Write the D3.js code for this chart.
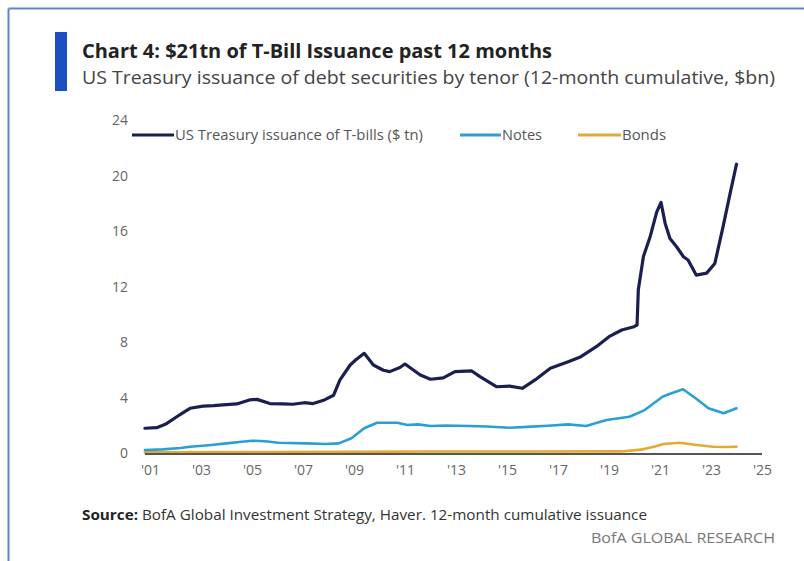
<!DOCTYPE html>
<html>
<head>
<meta charset="utf-8">
<script src="https://cdn.jsdelivr.net/npm/d3@7"></script>
<style>
  html, body { margin: 0; padding: 0; background: #fff; }
  svg { display: block; }
  text { font-family: "Open Sans", "Noto Sans", sans-serif; }
</style>
</head>
<body>
<svg id="chart" width="804" height="561"></svg>
<script>
// 12-month cumulative issuance, [year, value]
const tbills = [
  [2000.8, 1.82], [2001.26, 1.86], [2001.6, 2.1], [2002.05, 2.65], [2002.3, 2.95],
  [2002.57, 3.26], [2003.08, 3.42], [2003.5, 3.45], [2003.86, 3.5], [2004.4, 3.57],
  [2004.9, 3.86], [2005.2, 3.9], [2005.7, 3.6], [2006.2, 3.57], [2006.6, 3.55],
  [2007.05, 3.66], [2007.4, 3.6], [2007.84, 3.86], [2008.2, 4.2], [2008.45, 5.3],
  [2008.85, 6.38], [2009.1, 6.8], [2009.4, 7.22], [2009.76, 6.38], [2010.15, 6.0],
  [2010.4, 5.9], [2010.8, 6.2], [2011.0, 6.45], [2011.6, 5.66], [2012.0, 5.35],
  [2012.5, 5.45], [2012.96, 5.9], [2013.62, 5.95], [2013.94, 5.54], [2014.6, 4.81],
  [2015.1, 4.86], [2015.6, 4.7], [2016.1, 5.3], [2016.7, 6.14], [2017.4, 6.62],
  [2017.9, 6.98], [2018.5, 7.7], [2019.0, 8.42], [2019.5, 8.9], [2019.98, 9.14],
  [2020.1, 9.26], [2020.15, 11.8], [2020.35, 14.2], [2020.61, 15.6], [2020.87, 17.4],
  [2021.04, 18.1], [2021.2, 16.6], [2021.39, 15.5], [2021.65, 14.9], [2021.92, 14.18],
  [2022.1, 13.95], [2022.42, 12.86], [2022.83, 13.0], [2023.15, 13.7], [2023.48, 16.4],
  [2023.75, 18.75], [2024.0, 20.85]
];
const notes = [
  [2000.8, 0.25], [2001.5, 0.3], [2002.2, 0.4], [2002.57, 0.49], [2003.3, 0.6],
  [2004.1, 0.75], [2004.6, 0.85], [2005.0, 0.92], [2005.5, 0.88], [2006.05, 0.78],
  [2007.1, 0.73], [2007.9, 0.68], [2008.4, 0.73], [2008.9, 1.1], [2009.4, 1.82],
  [2009.9, 2.22], [2010.7, 2.22], [2011.1, 2.05], [2011.5, 2.1], [2012.0, 1.98],
  [2012.6, 2.02], [2013.5, 1.98], [2014.2, 1.95], [2015.1, 1.86], [2015.8, 1.92],
  [2016.6, 2.0], [2017.4, 2.1], [2018.1, 1.98], [2018.9, 2.41], [2019.8, 2.65],
  [2020.4, 3.13], [2021.1, 4.09], [2021.4, 4.3], [2021.9, 4.63], [2022.4, 3.98],
  [2022.9, 3.26], [2023.5, 2.9], [2024.0, 3.26]
];
const bonds = [
  [2000.8, 0.08], [2005.0, 0.1], [2009.0, 0.12], [2012.0, 0.14], [2016.0, 0.14],
  [2019.5, 0.15], [2020.33, 0.3], [2020.8, 0.5], [2021.13, 0.68], [2021.78, 0.78],
  [2022.44, 0.61], [2023.09, 0.49], [2023.6, 0.47], [2024.0, 0.49]
];
const yTicks = [0, 4, 8, 12, 16, 20, 24];
const xTicks = [2001, 2003, 2005, 2007, 2009, 2011, 2013, 2015, 2017, 2019, 2021, 2023, 2025];
const seriesNames = ["US Treasury issuance of T-bills ($ tn)", "Notes", "Bonds"];
const seriesColors = ["#1b1f4f", "#2a9fd4", "#e3aa2f"];

const svg = d3.select("#chart");

// frame
svg.append("line").attr("x1", 8.5).attr("x2", 804).attr("y1", 8.5).attr("y2", 8.5)
  .attr("stroke", "#5b86cf").attr("stroke-width", 2);
svg.append("line").attr("x1", 8.5).attr("x2", 8.5).attr("y1", 8.5).attr("y2", 561)
  .attr("stroke", "#5b86cf").attr("stroke-width", 2);

// heading
svg.append("rect").attr("x", 55).attr("y", 32).attr("width", 12).attr("height", 59).attr("fill", "#1c4fbf");
svg.append("text").attr("x", 82).attr("y", 58)
  .attr("font-size", 20).attr("font-weight", 700).attr("fill", "#222")
  .attr("textLength", 470).attr("lengthAdjust", "spacingAndGlyphs")
  .text("Chart 4: $21tn of T-Bill Issuance past 12 months");
svg.append("text").attr("x", 82).attr("y", 84)
  .attr("font-size", 18).attr("fill", "#444")
  .attr("textLength", 693).attr("lengthAdjust", "spacingAndGlyphs")
  .text("US Treasury issuance of debt securities by tenor (12-month cumulative, $bn)");

// scales
const x = d3.scaleLinear().domain([2001, 2025]).range([150, 762]);
const y = d3.scaleLinear().domain([0, 24]).range([453.5, 120.5]);

// axes
const yAxis = svg.append("g").attr("transform", "translate(132,0)")
  .call(d3.axisLeft(y).tickValues(yTicks).tickSize(0).tickPadding(4));
yAxis.select(".domain").remove();
yAxis.selectAll("text").attr("font-size", 14).attr("fill", "#666")
  .attr("font-family", "'Open Sans', sans-serif");

const xAxis = svg.append("g").attr("transform", `translate(0,${y(0)})`)
  .call(d3.axisBottom(x).tickValues(xTicks).tickSize(0).tickPadding(12)
    .tickFormat(d => "'" + String(d).slice(2)));
xAxis.select(".domain").remove();
xAxis.selectAll("text").attr("font-size", 14).attr("fill", "#666")
  .attr("font-family", "'Open Sans', sans-serif");

// series
const line = d3.line().x(d => x(d[0])).y(d => y(d[1])).curve(d3.curveLinear);
[[bonds, 2], [notes, 1], [tbills, 0]].forEach(([data, i]) => {
  svg.append("path").datum(data).attr("d", line)
    .attr("fill", "none").attr("stroke", seriesColors[i])
    .attr("stroke-width", i === 0 ? 3.2 : 2.6)
    .attr("stroke-linejoin", "round").attr("stroke-linecap", "round");
});

// zero line
svg.append("line").attr("x1", x(2000.8)).attr("x2", x(2025)).attr("y1", y(0) + 0.5).attr("y2", y(0) + 0.5)
  .attr("stroke", "#555").attr("stroke-width", 2);

// legend
const legendItems = [
  { x0: 132, x1: 174, w: 248 },
  { x0: 460, x1: 501, w: 40 },
  { x0: 578, x1: 621, w: 44 }
];
const legend = svg.append("g");
legendItems.forEach((it, i) => {
  legend.append("line").attr("x1", it.x0).attr("x2", it.x1).attr("y1", 135).attr("y2", 135)
    .attr("stroke", seriesColors[i]).attr("stroke-width", 3);
  legend.append("text").attr("x", it.x1 + 1).attr("y", 140)
    .attr("font-size", 14).attr("fill", "#555")
    .attr("textLength", it.w).attr("lengthAdjust", "spacingAndGlyphs")
    .text(seriesNames[i]);
});

// footer
const src = svg.append("text").attr("x", 82).attr("y", 520).attr("font-size", 14).attr("fill", "#333")
  .attr("textLength", 565).attr("lengthAdjust", "spacingAndGlyphs");
src.append("tspan").attr("font-weight", 700).attr("fill", "#222").text("Source:");
src.append("tspan").text(" BofA Global Investment Strategy, Haver. 12-month cumulative issuance");
svg.append("text").attr("x", 775).attr("y", 543).attr("text-anchor", "end")
  .attr("font-size", 14).attr("fill", "#777")
  .attr("textLength", 184).attr("lengthAdjust", "spacingAndGlyphs")
  .text("BofA GLOBAL RESEARCH");
</script>
</body>
</html>
